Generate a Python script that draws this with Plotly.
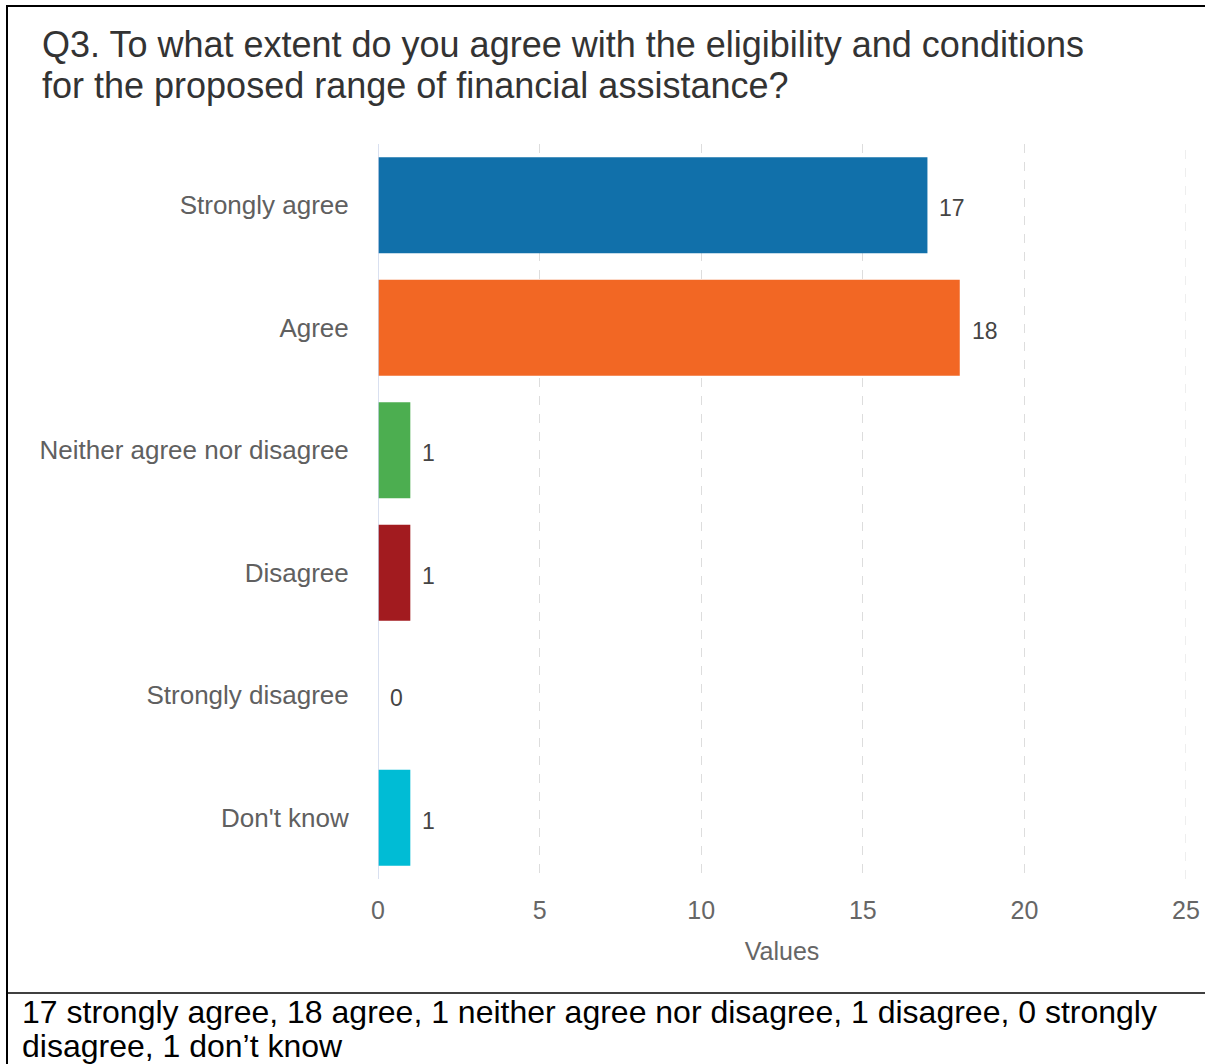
import plotly.graph_objects as go

categories = ["Strongly agree", "Agree", "Neither agree nor disagree", "Disagree", "Strongly disagree", "Don't know"]
values = [17, 18, 1, 1, 0, 1]
colors = ["#1170aa", "#f26724", "#4cae50", "#a21b1f", "#7cb5ec", "#00bcd5"]
tick_vals = [0, 5, 10, 15, 20, 25]

title_lines = ["Q3. To what extent do you agree with the eligibility and conditions",
               "for the proposed range of financial assistance?"]
caption_lines = ["17 strongly agree, 18 agree, 1 neither agree nor disagree, 1 disagree, 0 strongly",
                 "disagree, 1 don\u2019t know"]

W, H = 1205, 1064
L, R, T, B = 378, 19, 144, 185
PW, PH = W - L - R, H - T - B


def px2x(px):
    return (px - L) / PW


def py2y(py):
    return (H - B - py) / PH


FONT = "Liberation Sans, Arial, sans-serif"

fig = go.Figure()
fig.add_trace(go.Bar(
    y=categories, x=values, orientation="h",
    marker=dict(color=colors, line=dict(width=0)),
    width=0.785, hoverinfo="skip",
))

# value labels
for c, v in zip(categories, values):
    fig.add_annotation(x=v, y=c, xref="x", yref="y", text=str(v), showarrow=False,
                       xanchor="left", yanchor="middle", xshift=10, yshift=-3,
                       font=dict(family=FONT, size=23, color="#444444"))

# title lines
for i, line in enumerate(title_lines):
    fig.add_annotation(x=px2x(40), y=py2y(45 + 40 * i), xref="paper", yref="paper",
                       text=line, showarrow=False, xanchor="left", yanchor="middle",
                       font=dict(family=FONT, size=36, color="#333333"))

# caption lines
for i, line in enumerate(caption_lines):
    fig.add_annotation(x=px2x(20), y=py2y(1012 + 34 * i), xref="paper", yref="paper",
                       text=line, showarrow=False, xanchor="left", yanchor="middle",
                       font=dict(family=FONT, size=32, color="#000000"))

# frame lines
line_style = dict(color="#000000", width=2)
fig.add_shape(type="line", xref="paper", yref="paper", x0=px2x(7), x1=px2x(7),
              y0=py2y(5), y1=py2y(H + 5), line=line_style)
fig.add_shape(type="line", xref="paper", yref="paper", x0=px2x(7), x1=px2x(W + 5),
              y0=py2y(6), y1=py2y(6), line=line_style)
fig.add_shape(type="line", xref="paper", yref="paper", x0=px2x(7), x1=px2x(W + 5),
              y0=py2y(993), y1=py2y(993), line=dict(color="#000000", width=1.6))

fig.update_layout(
    width=W, height=H,
    margin=dict(l=L, r=R, t=T, b=B, autoexpand=False),
    paper_bgcolor="white", plot_bgcolor="white",
    showlegend=False,
    bargap=0.215,
    font=dict(family=FONT),
    xaxis=dict(
        range=[0, 25], tickvals=tick_vals, ticktext=[str(t) for t in tick_vals],
        showgrid=True, gridcolor="#dddddd", griddash="dash", gridwidth=1,
        zeroline=False, showline=False,
        ticks="outside", ticklen=9, tickcolor="rgba(0,0,0,0)",
        tickfont=dict(family=FONT, size=25, color="#666666"),
        title=dict(text="Values", font=dict(family=FONT, size=25, color="#666666"), standoff=19),
        fixedrange=True,
    ),
    yaxis=dict(
        autorange="reversed", showgrid=False, zeroline=False,
        showline=False,
        ticks="outside", ticklen=23, tickcolor="rgba(0,0,0,0)",
        tickfont=dict(family=FONT, size=26, color="#606060"),
        fixedrange=True,
    ),
)

# gridline at the last tick (plotly omits it at the range edge)
fig.add_shape(type="line", xref="x", yref="paper", x0=tick_vals[-1], x1=tick_vals[-1], y0=0, y1=1,
              line=dict(color="#dddddd", width=1, dash="dash"), layer="below")
# zero line (axis baseline)
fig.add_shape(type="line", xref="x", yref="paper", x0=0, x1=0, y0=0, y1=1,
              line=dict(color="#ccd6eb", width=1.5), layer="above")

fig.write_html("out.html")
